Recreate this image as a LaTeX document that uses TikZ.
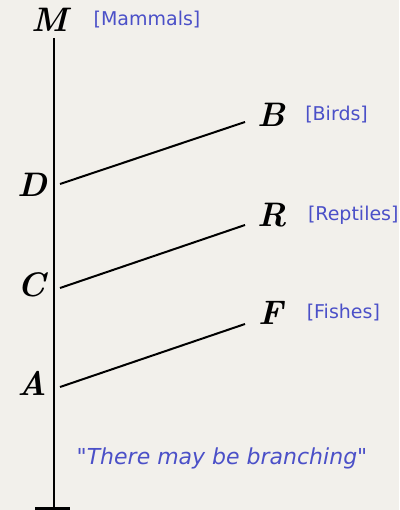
\documentclass[tikz,border=0pt]{standalone}
\usepackage{fontspec}
\newfontfamily\labelfont{DejaVu Sans}
\usepackage{xcolor}
\definecolor{paper}    {HTML}{F2F0EB}
\definecolor{taxonBlue}{HTML}{4B50C8}
\usetikzlibrary{positioning}
\tikzset{
    clade/.style={inner sep=0pt, font=\fontsize{34}{34}\selectfont\bfseries\itshape},
    taxon/.style={inner sep=0pt, text=taxonBlue, font=\labelfont\fontsize{19}{19}\selectfont},
    note/.style={inner sep=0pt, text=taxonBlue, font=\labelfont\fontsize{22}{22}\selectfont},
    trunk/.style={-, line width=2.2pt},
    branch/.style={-, line width=2pt},
    foot/.style={-, line width=4.5pt},
}

\begin{document}
\begin{tikzpicture}[x=1pt, y=-1pt]
    \fill[paper] (0,0) rectangle (399,510);
    \useasboundingbox (0,0) rectangle (399,510);
    % stem letters
    \node[clade] (M) at (50,20) {M};
    \node[clade] (D) at (32,185) {D};
    \node[clade] (C) at (32,285) {C};
    \node[clade] (A) at (32,383) {A};
    % branch tips
    \node[clade] (B) at (271,115) {B};
    \node[clade] (R) at (272,215) {R};
    \node[clade] (F) at (271,313) {F};
    \node[taxon, right=25pt of M] (mam) {[Mammals]};
    \node[taxon, right=20pt of B] (bir) {[Birds]};
    \node[taxon, right=21pt of R] (rep) {[Reptiles]};
    \node[taxon, right=23pt of F] (fis) {[Fishes]};
    \node[note] (branching) at (222,458) {"\textit{There may be branching}"};
    % trunk and branches
    \coordinate (top) at (54,38);
    \coordinate (bot) at (54,509);
    \coordinate (d) at (60,184);
    \coordinate (c) at (60,288);
    \coordinate (a) at (60,387);
    \coordinate (b) at (245,122);
    \coordinate (r) at (245,225);
    \coordinate (f) at (245,324);
    \draw[trunk] (top) -- (bot);
    \draw[foot] ([xshift=-19pt]bot) -- ([xshift=16pt]bot);
    \draw[branch] (d) -- (b);
    \draw[branch] (c) -- (r);
    \draw[branch] (a) -- (f);
\end{tikzpicture}
\end{document}
